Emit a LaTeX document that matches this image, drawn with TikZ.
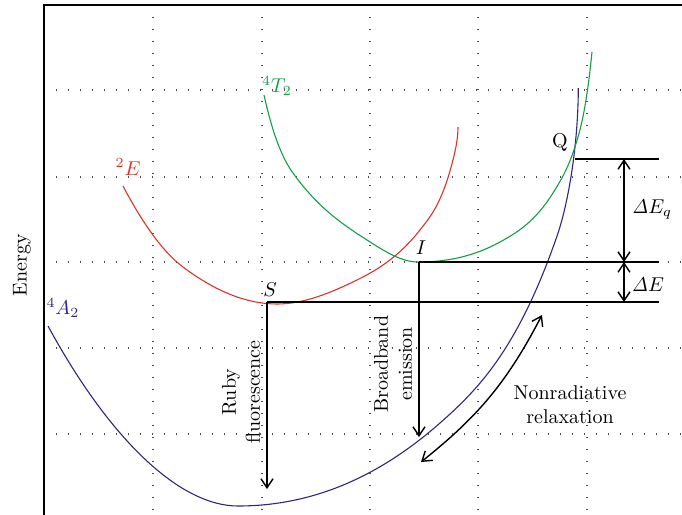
\documentclass[tikz,border=0pt]{standalone}
\usetikzlibrary{arrows.meta}
\definecolor{redc}{RGB}{222,50,38}
\definecolor{greenc}{RGB}{20,158,72}
\definecolor{bluec}{RGB}{45,40,125}
\begin{document}
\begin{tikzpicture}[x=0.5pt,y=-0.5pt,
  gridline/.style={line width=0.6pt, dash pattern=on 0.6pt off 5.4pt, black!70},
  frameline/.style={line width=1pt},
  curve/.style={line width=0.55pt},
  lvl/.style={line width=0.7pt},
  tip/.tip={Straight Barb[length=4.5pt,width=6pt]},
  arr/.style={line width=0.7pt, -tip},
  darr/.style={line width=0.7pt, tip-tip},
  lbl/.style={inner sep=0pt},
  vlbl/.style={inner sep=0pt, rotate=90, align=center}]
\useasboundingbox (0,0) rectangle (682,515);
% grid
\foreach \x in {153,262,370,478,587} \draw[gridline] (\x,5) -- (\x,515);
\foreach \y in {90,177,262,348,434} \draw[gridline] (44,\y) -- (682,\y);
% frame
\draw[frameline] (44,515) -- (44,5) -- (682,5);
% 4A2 curve
\draw[curve, bluec] (48,326) .. controls (110,440) and (180,506) .. (238,506)
  .. controls (305.3,506) and (372.7,482.3) .. (440,423)
  .. controls (478.9,388.8) and (517.8,348.6) .. (556.7,237)
  .. controls (569.9,199.2) and (578.3,138) .. (578.3,88);
% 2E curve
\draw[curve, redc] (123,186) .. controls (143,224) and (163,252) .. (183,267)
  .. controls (214.3,290.5) and (245.7,304) .. (277,304)
  .. controls (303.7,304) and (330.3,293.1) .. (357,280)
  .. controls (378,269.7) and (399,256.5) .. (420,230)
  .. controls (431,216.1) and (442,202.9) .. (453,160)
  .. controls (455.7,149.3) and (458,138) .. (458,127);
% 4T2 curve
\draw[curve, greenc] (264,95) .. controls (273.7,138.5) and (283.3,159.5) .. (293,173)
  .. controls (317.7,207.5) and (342.3,224.2) .. (367,240)
  .. controls (384,250.9) and (401,262) .. (418,262)
  .. controls (445.3,262) and (472.7,257) .. (500,242)
  .. controls (517.7,232.3) and (535.3,221.3) .. (553,193)
  .. controls (561.3,179.7) and (569.7,166.2) .. (578,137)
  .. controls (582.7,120.7) and (587.3,98.7) .. (592,52);
% points
\coordinate (S) at (267,302);
\coordinate (Send) at (659,302);
\coordinate (Sbot) at (267,489);
\coordinate (I) at (419,262);
\coordinate (Iend) at (659,262);
\coordinate (Ibot) at (419,437);
\coordinate (Q) at (575,159);
\coordinate (Qend) at (659,159);
\coordinate (dq) at (624,159);
\coordinate (di) at (624,262);
\coordinate (ds) at (624,302);
\coordinate (nrA) at (542,315);
\coordinate (nrB) at (421,462);
% levels
\draw[lvl] (S) -- (Send);
\draw[lvl] (I) -- (Iend);
\draw[lvl] (Q) -- (Qend);
\draw[arr] (S) -- (Sbot);
\draw[arr] (I) -- (Ibot);
\draw[darr] (dq) -- (di);
\draw[darr] (di) -- (ds);
\draw[darr] (nrA) to[bend left=12] (nrB);
% labels
\node[vlbl] (energy) at (22,265) {Energy};
\node[lbl, text=bluec] (a2) at (63,308) {$^4A_2$};
\node[lbl, text=redc] (e2) at (128,167) {$^2E$};
\node[lbl, text=greenc] (t2) at (277,86) {$^4T_2$};
\node[lbl] (slbl) at (270,290) {$S$};
\node[lbl] (ilbl) at (421,248) {$I$};
\node[lbl] (qlbl) at (560,142) {Q};
\node[lbl] (dEq) at (652,210) {$\mathit{\Delta}E_q$};
\node[lbl] (dE) at (648,285) {$\mathit{\Delta}E$};
\node[vlbl] (ruby) at (241,392) {Ruby\\fluorescence};
\node[vlbl] (broad) at (393,364) {Broadband\\emission};
\node[lbl, align=center] (nonrad) at (570,405) {Nonradiative\\relaxation};
\end{tikzpicture}
\end{document}
